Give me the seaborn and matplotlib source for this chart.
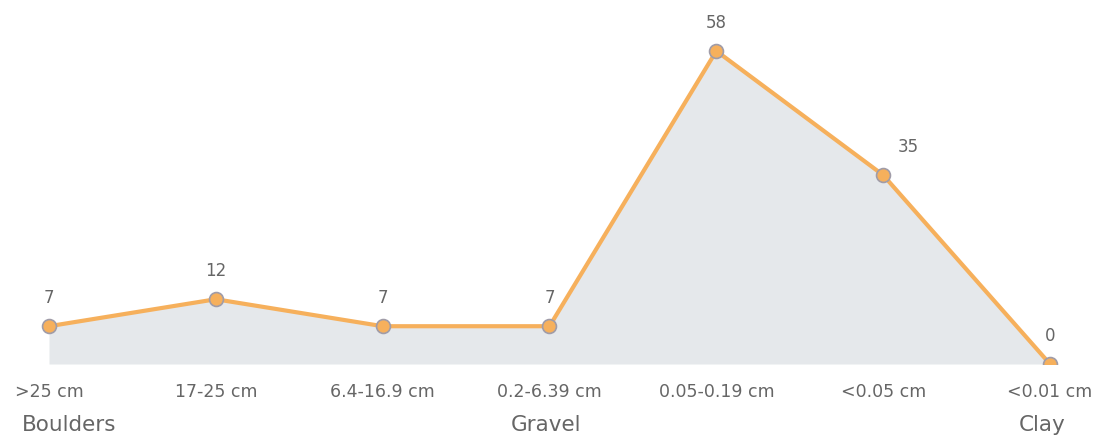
import numpy as np
import matplotlib
matplotlib.use('Agg')
import matplotlib.pyplot as plt
import seaborn as sns
import pandas as pd

# grain size classes and counts
sizes = ['>25 cm', '17-25 cm', '6.4-16.9 cm', '0.2-6.39 cm',
         '0.05-0.19 cm', '<0.05 cm', '<0.01 cm']
counts = [7, 12, 7, 7, 58, 35, 0]
groups = ['Boulders', 'Gravel', 'Clay']
group_pos = [0.12, 2.98, 5.95]

sns.set_theme(style='white')
plt.rcParams['font.family'] = ['DejaVu Sans']

df = pd.DataFrame({'pos': np.arange(len(sizes)), 'count': counts})

fig = plt.figure(figsize=(11.06, 4.38), dpi=100)
# axes bottom sits at the zero baseline (pixel 364 of 438)
ax = fig.add_axes([0, 74 / 438, 1, 364 / 438])

line_col = '#f6b05c'
ax.fill_between(df['pos'], df['count'], 0, color='#e5e8eb', linewidth=0, zorder=1)
sns.lineplot(data=df, x='pos', y='count', ax=ax, color=line_col, linewidth=3,
             marker='o', markersize=10, markerfacecolor=line_col,
             markeredgecolor='#a09ca8', markeredgewidth=1.2, zorder=3)

# value labels, the 35 is nudged right so it clears the line
for i, v in enumerate(counts):
    dx = 0.15 if v == 35 else 0
    ax.annotate(str(v), (i + dx, v), xytext=(0, 14), textcoords='offset points',
                ha='center', va='bottom', fontsize=12, color='#666666')

ax.set_xlim(-49 / 166.83, 6 + 56 / 166.83)
ax.set_ylim(0, 364 / 5.397)
ax.set_xticks(df['pos'])
ax.set_xticklabels(sizes, fontsize=12.5, color='#666666')
ax.tick_params(axis='x', length=0, pad=14)
ax.set_yticks([])
ax.set_xlabel('')
ax.set_ylabel('')
sns.despine(ax=ax, left=True, bottom=True)

for g, p in zip(groups, group_pos):
    ax.annotate(g, (p, 0), xytext=(0, -44), textcoords='offset points',
                ha='center', va='center', fontsize=15.5, color='#666666',
                annotation_clip=False)

fig.savefig('out.png', dpi=100)
